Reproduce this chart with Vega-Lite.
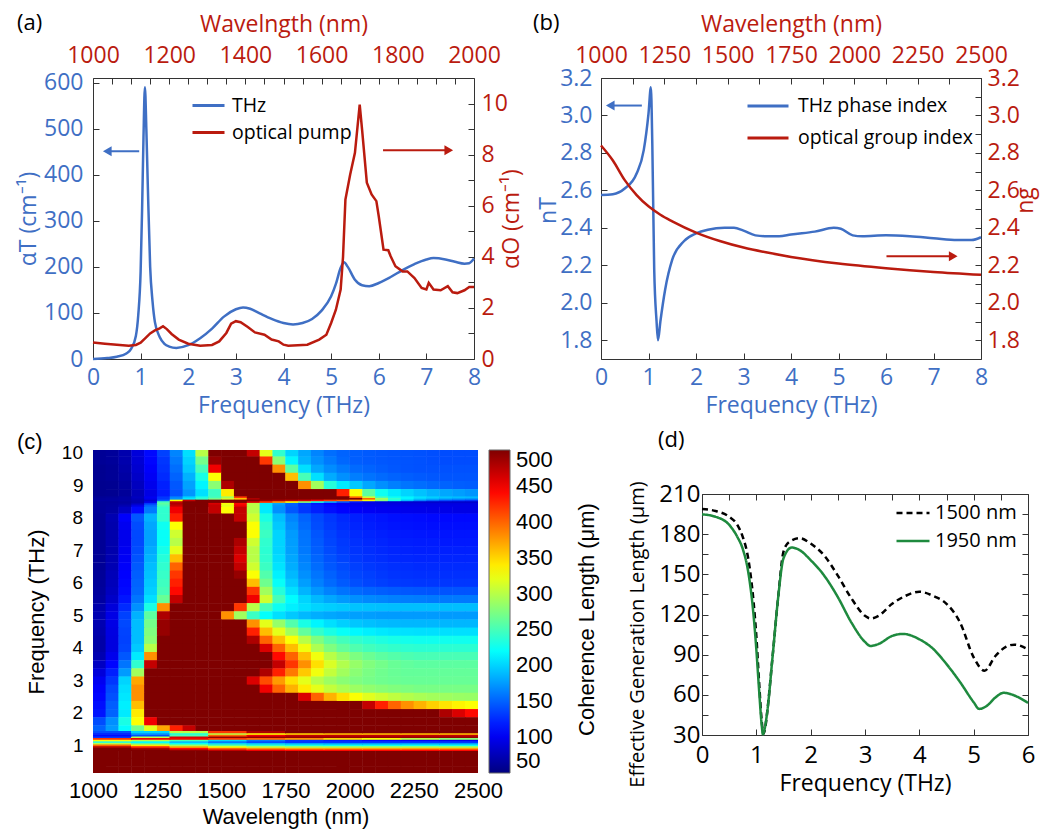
{
"$schema": "https://vega.github.io/schema/vega-lite/v6.json",
"padding": {"left": 16, "top": 11, "right": 4, "bottom": 4},
"background": "white",
"config": {
  "font": "Open Sans",
  "view": {"stroke": "#333", "strokeWidth": 1},
  "axis": {"grid": false, "domain": false, "tickColor": "#333", "tickWidth": 1, "tickSize": -6, "labelFontSize": 23, "titleFontSize": 23, "titleFontWeight": "normal", "labelFont": "Open Sans", "titleFont": "Open Sans", "labelOverlap": false, "labelFlush": false, "labelColor": "#000", "titleColor": "#000"},
  "axisY": {"labelOverlap": false},
  "axisQuantitative": {"labelOverlap": false},
  "legend": {"labelFont": "Open Sans", "titleFont": "Open Sans", "labelLimit": 400},
  "title": {"fontWeight": "normal"}
},
"datasets": {
  "aT": [{"f":0,"a":0},{"f":0.3,"a":2},{"f":0.5,"a":5},{"f":0.7,"a":12},{"f":0.8,"a":22},{"f":0.9,"a":50},{"f":0.95,"a":95},{"f":1.0,"a":190},{"f":1.03,"a":320},{"f":1.06,"a":480},{"f":1.09,"a":590},{"f":1.12,"a":500},{"f":1.15,"a":380},{"f":1.2,"a":200},{"f":1.25,"a":125},{"f":1.3,"a":80},{"f":1.4,"a":48},{"f":1.5,"a":33},{"f":1.6,"a":27},{"f":1.75,"a":24},{"f":2.0,"a":30},{"f":2.25,"a":45},{"f":2.5,"a":66},{"f":2.75,"a":92},{"f":3.0,"a":108},{"f":3.15,"a":112},{"f":3.3,"a":109},{"f":3.5,"a":99},{"f":3.75,"a":87},{"f":4.0,"a":78},{"f":4.2,"a":75},{"f":4.4,"a":78},{"f":4.6,"a":87},{"f":4.8,"a":105},{"f":5.0,"a":136},{"f":5.1,"a":163},{"f":5.2,"a":198},{"f":5.27,"a":210},{"f":5.35,"a":200},{"f":5.5,"a":172},{"f":5.65,"a":160},{"f":5.8,"a":158},{"f":6.0,"a":165},{"f":6.25,"a":178},{"f":6.5,"a":193},{"f":6.75,"a":206},{"f":7.0,"a":216},{"f":7.15,"a":219},{"f":7.4,"a":216},{"f":7.6,"a":211},{"f":7.8,"a":207},{"f":7.9,"a":208},{"f":8.0,"a":218}],
  "aO": [{"f":0,"a":0.65},{"f":0.25,"a":0.6},{"f":0.5,"a":0.56},{"f":0.75,"a":0.52},{"f":0.9,"a":0.55},{"f":1.0,"a":0.64},{"f":1.1,"a":0.82},{"f":1.2,"a":1.0},{"f":1.3,"a":1.12},{"f":1.4,"a":1.2},{"f":1.47,"a":1.28},{"f":1.55,"a":1.17},{"f":1.65,"a":0.98},{"f":1.8,"a":0.76},{"f":2.0,"a":0.6},{"f":2.25,"a":0.52},{"f":2.5,"a":0.55},{"f":2.65,"a":0.69},{"f":2.8,"a":1.02},{"f":2.9,"a":1.38},{"f":3.0,"a":1.48},{"f":3.1,"a":1.44},{"f":3.25,"a":1.25},{"f":3.4,"a":1.04},{"f":3.6,"a":0.95},{"f":3.75,"a":0.76},{"f":3.9,"a":0.69},{"f":4.0,"a":0.56},{"f":4.1,"a":0.52},{"f":4.5,"a":0.56},{"f":4.75,"a":0.76},{"f":4.9,"a":0.95},{"f":5.0,"a":1.41},{"f":5.1,"a":1.93},{"f":5.2,"a":2.72},{"f":5.25,"a":4.0},{"f":5.3,"a":6.24},{"f":5.4,"a":7.22},{"f":5.5,"a":8.07},{"f":5.6,"a":9.96},{"f":5.65,"a":8.98},{"f":5.75,"a":6.9},{"f":5.85,"a":6.44},{"f":5.95,"a":6.18},{"f":6.0,"a":5.59},{"f":6.1,"a":4.28},{"f":6.2,"a":4.26},{"f":6.25,"a":4.02},{"f":6.35,"a":3.63},{"f":6.5,"a":3.43},{"f":6.6,"a":3.43},{"f":6.75,"a":3.17},{"f":6.9,"a":2.78},{"f":7.0,"a":2.72},{"f":7.05,"a":2.98},{"f":7.15,"a":2.72},{"f":7.3,"a":2.69},{"f":7.45,"a":2.85},{"f":7.55,"a":2.61},{"f":7.65,"a":2.58},{"f":7.8,"a":2.69},{"f":7.9,"a":2.82},{"f":8.0,"a":2.82}],
  "nT": [{"f":0,"n":2.576},{"f":0.25,"n":2.58},{"f":0.5,"n":2.61},{"f":0.75,"n":2.69},{"f":0.9,"n":2.815},{"f":1.0,"n":3.01},{"f":1.05,"n":3.15},{"f":1.08,"n":2.85},{"f":1.12,"n":2.18},{"f":1.17,"n":1.9},{"f":1.2,"n":1.8},{"f":1.25,"n":1.9},{"f":1.35,"n":2.07},{"f":1.5,"n":2.23},{"f":1.75,"n":2.33},{"f":2.0,"n":2.37},{"f":2.25,"n":2.39},{"f":2.6,"n":2.4},{"f":2.8,"n":2.4},{"f":3.0,"n":2.385},{"f":3.25,"n":2.36},{"f":3.5,"n":2.355},{"f":3.75,"n":2.355},{"f":4.0,"n":2.365},{"f":4.5,"n":2.38},{"f":4.9,"n":2.4},{"f":5.05,"n":2.395},{"f":5.3,"n":2.36},{"f":5.5,"n":2.355},{"f":6.0,"n":2.36},{"f":6.5,"n":2.355},{"f":7.0,"n":2.345},{"f":7.5,"n":2.335},{"f":7.8,"n":2.335},{"f":8.0,"n":2.35}],
  "ng": [{"f":0,"n":2.84},{"f":0.25,"n":2.76},{"f":0.5,"n":2.655},{"f":0.75,"n":2.575},{"f":1.0,"n":2.515},{"f":1.25,"n":2.47},{"f":1.5,"n":2.435},{"f":2.0,"n":2.375},{"f":2.5,"n":2.33},{"f":3.0,"n":2.295},{"f":3.5,"n":2.268},{"f":4.0,"n":2.245},{"f":5.0,"n":2.21},{"f":6.0,"n":2.185},{"f":7.0,"n":2.165},{"f":8.0,"n":2.15}],
  "dl": [{"s":"1500 nm","f":0,"v":198.8},{"s":"1500 nm","f":0.25,"v":197.3},{"s":"1500 nm","f":0.5,"v":193},{"s":"1500 nm","f":0.65,"v":187},{"s":"1500 nm","f":0.75,"v":178},{"s":"1500 nm","f":0.85,"v":162},{"s":"1500 nm","f":0.95,"v":129},{"s":"1500 nm","f":1.0,"v":104},{"s":"1500 nm","f":1.05,"v":70},{"s":"1500 nm","f":1.1,"v":40},{"s":"1500 nm","f":1.13,"v":31},{"s":"1500 nm","f":1.17,"v":37},{"s":"1500 nm","f":1.2,"v":47},{"s":"1500 nm","f":1.3,"v":89},{"s":"1500 nm","f":1.4,"v":132},{"s":"1500 nm","f":1.5,"v":167},{"s":"1500 nm","f":1.6,"v":174},{"s":"1500 nm","f":1.8,"v":177},{"s":"1500 nm","f":2.0,"v":173},{"s":"1500 nm","f":2.25,"v":164},{"s":"1500 nm","f":2.5,"v":149},{"s":"1500 nm","f":2.75,"v":132},{"s":"1500 nm","f":3.0,"v":119},{"s":"1500 nm","f":3.1,"v":117},{"s":"1500 nm","f":3.25,"v":119},{"s":"1500 nm","f":3.5,"v":128},{"s":"1500 nm","f":3.75,"v":134},{"s":"1500 nm","f":4.0,"v":137},{"s":"1500 nm","f":4.25,"v":134},{"s":"1500 nm","f":4.5,"v":128},{"s":"1500 nm","f":4.75,"v":114},{"s":"1500 nm","f":5.0,"v":88},{"s":"1500 nm","f":5.2,"v":78},{"s":"1500 nm","f":5.4,"v":89},{"s":"1500 nm","f":5.6,"v":96},{"s":"1500 nm","f":5.75,"v":97.5},{"s":"1500 nm","f":6.0,"v":94},
        {"s":"1950 nm","f":0,"v":194.8},{"s":"1950 nm","f":0.25,"v":193},{"s":"1950 nm","f":0.5,"v":187},{"s":"1950 nm","f":0.65,"v":178},{"s":"1950 nm","f":0.75,"v":169},{"s":"1950 nm","f":0.85,"v":152},{"s":"1950 nm","f":0.95,"v":119},{"s":"1950 nm","f":1.0,"v":94},{"s":"1950 nm","f":1.05,"v":64},{"s":"1950 nm","f":1.1,"v":37},{"s":"1950 nm","f":1.12,"v":30.5},{"s":"1950 nm","f":1.15,"v":34},{"s":"1950 nm","f":1.2,"v":47},{"s":"1950 nm","f":1.3,"v":89},{"s":"1950 nm","f":1.4,"v":132},{"s":"1950 nm","f":1.5,"v":162},{"s":"1950 nm","f":1.65,"v":170},{"s":"1950 nm","f":1.8,"v":168},{"s":"1950 nm","f":2.0,"v":160.6},{"s":"1950 nm","f":2.25,"v":149},{"s":"1950 nm","f":2.5,"v":133},{"s":"1950 nm","f":2.75,"v":114},{"s":"1950 nm","f":3.0,"v":99.5},{"s":"1950 nm","f":3.1,"v":96.5},{"s":"1950 nm","f":3.25,"v":98},{"s":"1950 nm","f":3.5,"v":104},{"s":"1950 nm","f":3.7,"v":105.5},{"s":"1950 nm","f":4.0,"v":101.5},{"s":"1950 nm","f":4.25,"v":94.5},{"s":"1950 nm","f":4.5,"v":83},{"s":"1950 nm","f":4.75,"v":69.5},{"s":"1950 nm","f":5.0,"v":54.5},{"s":"1950 nm","f":5.1,"v":49.5},{"s":"1950 nm","f":5.25,"v":52},{"s":"1950 nm","f":5.4,"v":58},{"s":"1950 nm","f":5.55,"v":61.5},{"s":"1950 nm","f":5.75,"v":59.5},{"s":"1950 nm","f":6.0,"v":54}],
  "wl30": [{"i":1,"w":1025},{"i":2,"w":1075},{"i":3,"w":1125},{"i":4,"w":1175},{"i":5,"w":1225},{"i":6,"w":1275},{"i":7,"w":1325},{"i":8,"w":1375},{"i":9,"w":1425},{"i":10,"w":1475},{"i":11,"w":1525},{"i":12,"w":1575},{"i":13,"w":1625},{"i":14,"w":1675},{"i":15,"w":1725},{"i":16,"w":1775},{"i":17,"w":1825},{"i":18,"w":1875},{"i":19,"w":1925},{"i":20,"w":1975},{"i":21,"w":2025},{"i":22,"w":2075},{"i":23,"w":2125},{"i":24,"w":2175},{"i":25,"w":2225},{"i":26,"w":2275},{"i":27,"w":2325},{"i":28,"w":2375},{"i":29,"w":2425},{"i":30,"w":2475}],
  "wl10": [{"i":1,"w":1075},{"i":2,"w":1225},{"i":3,"w":1375},{"i":4,"w":1525},{"i":5,"w":1675},{"i":6,"w":1825},{"i":7,"w":1975},{"i":8,"w":2125},{"i":9,"w":2275},{"i":10,"w":2425}],
  "ylab": [{"f":2,"t":"2"},{"f":4,"t":"4"},{"f":6,"t":"6"},{"f":8,"t":"8"},{"f":10,"t":"10"}],
  "hm": [
    {"f":10,"v":[60,62,70,90,110,135,165,205,300,500,500,500,470,320,240,200,180,165,155,150,148,146,145,144,143,142,141,140,140,140]},
    {"f":9.75,"v":[60,62,70,88,108,130,160,200,270,490,500,500,500,420,280,215,185,170,160,152,148,146,145,144,143,142,141,140,140,140]},
    {"f":9.5,"v":[58,60,68,85,105,128,155,195,250,450,500,500,500,500,380,260,205,180,168,160,153,150,147,145,143,142,142,142,142,142]},
    {"f":9.25,"v":[58,60,66,82,102,125,150,185,230,330,500,500,500,500,500,360,250,205,182,170,162,157,153,150,148,146,145,144,144,144]},
    {"f":9,"v":[57,58,63,78,98,120,145,178,215,280,480,500,500,500,500,500,380,290,235,210,195,180,170,163,158,155,152,150,148,147]},
    {"f":8.75,"v":[57,58,62,75,95,118,142,172,205,245,340,500,500,500,500,500,500,500,500,430,330,260,225,210,200,192,185,180,176,172]},
    {"f":8.5,"v":[65,66,70,80,110,200,380,480,490,480,450,480,470,450,430,420,400,380,350,320,280,240,200,170,150,140,130,125,120,118]},
    {"f":8.25,"v":[62,65,80,110,160,240,450,500,500,470,330,470,300,210,170,145,130,120,112,107,104,102,100,99,98,97,96,96,95,95]},
    {"f":8,"v":[60,72,105,145,185,240,430,500,500,500,500,470,310,230,190,165,150,138,130,124,120,117,115,113,112,111,110,110,110,110]},
    {"f":7.75,"v":[60,70,100,140,180,225,330,500,500,500,500,500,330,240,195,170,153,140,132,126,122,119,117,115,114,113,112,112,112,112]},
    {"f":7.5,"v":[60,70,98,138,178,222,310,500,500,500,500,500,330,245,200,175,157,144,135,129,125,122,120,118,117,116,115,115,115,115]},
    {"f":7.25,"v":[60,70,98,138,178,222,300,500,500,500,500,480,310,240,200,176,158,146,137,131,127,124,122,120,119,118,118,117,117,117]},
    {"f":7,"v":[60,70,100,140,182,228,320,500,500,500,500,470,300,238,200,177,160,148,139,133,129,126,124,122,121,120,120,120,120,120]},
    {"f":6.75,"v":[60,72,102,143,186,235,360,500,500,500,500,460,300,240,203,180,163,151,142,136,131,128,126,124,123,122,122,122,122,122]},
    {"f":6.5,"v":[60,73,104,146,190,240,400,500,500,500,500,470,310,245,207,183,166,154,145,139,134,131,129,127,126,125,125,125,125,125]},
    {"f":6.25,"v":[61,75,106,148,192,243,420,500,500,500,500,490,330,255,213,188,170,158,149,142,137,134,131,129,128,127,127,127,127,127]},
    {"f":6,"v":[62,76,108,150,195,246,430,500,500,500,500,500,360,268,222,195,176,163,153,146,141,137,134,132,131,130,130,130,130,130]},
    {"f":5.75,"v":[63,78,110,152,198,250,440,500,500,500,500,500,420,290,235,205,186,173,164,157,153,150,148,146,145,144,143,143,143,143]},
    {"f":5.5,"v":[65,82,115,158,205,265,470,500,500,500,500,500,450,310,250,218,200,188,180,174,170,167,165,163,162,161,160,160,160,160]},
    {"f":5.25,"v":[70,90,125,170,230,380,500,500,500,500,500,420,300,250,225,212,205,200,197,195,193,192,191,190,190,190,190,190,190,190]},
    {"f":5,"v":[72,95,135,185,260,480,500,500,500,500,380,290,245,220,205,195,188,183,180,178,177,176,175,175,175,175,175,175,175,175]},
    {"f":4.75,"v":[72,95,138,190,270,490,500,500,500,500,500,500,380,320,285,255,230,215,205,198,194,191,189,188,187,187,187,187,187,187]},
    {"f":4.5,"v":[70,93,136,190,275,490,500,500,500,500,500,500,430,360,320,290,262,242,230,222,216,212,209,207,206,205,205,205,205,205]},
    {"f":4.25,"v":[68,92,135,190,280,500,500,500,500,500,500,500,480,400,360,330,300,275,258,248,241,236,232,229,227,226,226,226,226,226]},
    {"f":4,"v":[68,92,137,195,300,500,500,500,500,500,500,500,500,460,400,360,325,295,275,262,254,248,244,241,239,238,238,238,238,238]},
    {"f":3.75,"v":[72,98,145,210,380,500,500,500,500,500,500,500,500,500,440,400,360,325,300,285,274,266,260,256,253,251,251,251,251,251]},
    {"f":3.5,"v":[80,108,158,240,470,500,500,500,500,500,500,500,500,500,470,420,380,345,315,297,285,276,270,265,262,260,260,260,260,260]},
    {"f":3.25,"v":[90,120,175,290,500,500,500,500,500,500,500,500,500,480,430,390,355,325,305,290,280,273,268,265,263,263,263,263,263,263]},
    {"f":3,"v":[100,130,200,370,500,500,500,500,500,500,500,500,460,410,375,345,320,300,288,280,275,271,268,266,265,265,265,265,265,265]},
    {"f":2.75,"v":[105,138,205,380,500,500,500,500,500,500,500,500,500,450,400,365,340,320,305,295,288,283,279,276,274,272,272,272,272,272]},
    {"f":2.5,"v":[108,142,208,380,500,500,500,500,500,500,500,500,500,500,500,500,460,400,365,345,330,318,310,303,298,294,291,289,287,286]},
    {"f":2.25,"v":[112,148,212,360,500,500,500,500,500,500,500,500,500,500,500,500,500,500,500,500,500,470,430,400,380,365,352,343,336,330]},
    {"f":2,"v":[115,150,210,340,500,500,500,500,500,500,500,500,500,500,500,500,500,500,500,500,500,500,500,500,500,500,500,480,460,440]},
    {"f":1.75,"v":[140,170,230,330,450,500,500,500,500,500,500,500,500,500,500,500,500,500,500,500,500,500,500,500,500,500,500,500,500,500]},
    {"f":1.5,"v":[150,175,220,270,320,370,430,470,500,500,500,500,500,500,500,500,500,500,500,500,500,500,500,500,500,500,500,500,500,500]},
    {"f":1.25,"v":[250,250,250,250,250,350,350,350,350,350,350,350,350,350,350,350,350,350,350,350,350,350,350,350,350,350,350,350,350,350]},
    {"f":1,"v":[400,400,400,330,330,330,330,330,330,250,250,250,250,250,250,250,250,250,250,250,250,250,250,250,250,250,250,250,250,250]},
    {"f":0.75,"v":[500,500,500,500,500,500,500,500,500,500,500,500,500,500,500,500,500,500,500,500,500,500,500,500,500,500,500,500,500,500]},
    {"f":0.5,"v":[500,500,500,500,500,500,500,500,500,500,500,500,500,500,500,500,500,500,500,500,500,500,500,500,500,500,500,500,500,500]},
    {"f":0.25,"v":[500,500,500,500,500,500,500,500,500,500,500,500,500,500,500,500,500,500,500,500,500,500,500,500,500,500,500,500,500,500]}
  ],
  "hm2": [
    {"f":0.875,"v":[500,500,490,470,450,440,440,440,440,440]},
    {"f":0.925,"v":[500,480,440,400,380,370,370,370,370,370]},
    {"f":0.975,"v":[480,430,370,330,310,300,300,300,300,300]},
    {"f":1.025,"v":[400,340,290,260,240,230,225,225,225,225]},
    {"f":1.075,"v":[300,260,220,200,190,180,175,175,175,175]},
    {"f":1.125,"v":[240,220,190,160,140,130,130,130,130,130]},
    {"f":1.175,"v":[330,300,250,200,160,130,120,110,105,100]},
    {"f":1.225,"v":[420,450,450,420,400,380,350,330,300,280]},
    {"f":1.275,"v":[130,300,460,490,490,490,490,490,490,490]},
    {"f":1.325,"v":[110,140,250,400,450,470,470,470,470,470]},
    {"f":1.375,"v":[120,170,230,300,330,350,360,360,360,360]},
    {"f":1.425,"v":[140,200,300,420,480,500,500,500,500,500]}
  ],
  "hm3": [
    {"f":8.625,"v":[60,62,66,78,100,130,165,200,230,250,290,420,500,500,500,500,500,500,500,500,400,310,250,225,215,205,198,193,190,188]},
    {"f":8.575,"v":[62,63,66,76,98,130,170,210,240,270,310,360,480,500,500,500,500,500,500,500,500,400,290,240,215,200,190,183,178,175]},
    {"f":8.525,"v":[65,65,67,72,85,150,330,470,500,500,500,500,500,490,480,470,460,440,420,400,370,330,280,230,190,165,150,140,135,130]},
    {"f":8.475,"v":[62,62,64,70,95,250,470,500,500,500,500,500,460,420,380,330,280,230,180,140,115,100,92,88,86,85,84,84,84,84]},
    {"f":8.425,"v":[62,63,66,78,130,260,480,500,500,460,330,440,300,210,180,150,130,115,106,100,97,95,94,93,92,92,92,92,92,92]},
    {"f":8.375,"v":[62,64,72,95,150,250,470,500,500,470,320,450,300,210,172,148,132,120,110,104,100,98,97,96,95,95,95,95,95,95]}
  ]
},
"spacing": 11,
"resolve": {"scale": {"color": "independent", "strokeDash": "independent"}, "legend": {"color": "independent", "strokeDash": "independent"}},
"vconcat": [
 {
  "spacing": 8,
  "resolve": {"scale": {"color": "independent"}, "legend": {"color": "independent"}},
  "hconcat": [
   {
    "width": 381, "height": 281,
    "title": {"text": "(a)", "anchor": "start", "frame": "group", "dx": -76, "dy": 22, "offset": 0, "fontSize": 22, "fontWeight": "normal", "color": "#000"},
    "layer": [
     {
      "layer": [
       {
        "data": {"name": "aT"},
        "mark": {"type": "line", "strokeWidth": 2.5, "interpolate": "monotone"},
        "encoding": {
         "x": {"field": "f", "type": "quantitative", "scale": {"domain": [0, 8], "nice": false, "zero": false},
               "axis": {"orient": "bottom", "values": [0,0.5,1,1.5,2,2.5,3,3.5,4,4.5,5,5.5,6,6.5,7,7.5,8], "format": "d", "labelExpr": "datum.value % 1 === 0 ? datum.label : ''", "labelOverlap": false, "title": "Frequency (THz)", "labelColor": "#3F6FC4", "titleColor": "#3F6FC4", "labelPadding": 13, "minExtent": 30, "maxExtent": 30, "titlePadding": 5}},
         "y": {"field": "a", "type": "quantitative", "scale": {"domain": [0, 610], "nice": false, "zero": false},
               "axis": {"orient": "left", "values": [0,50,100,150,200,250,300,350,400,450,500,550,600], "labelExpr": "datum.value % 100 === 0 ? datum.label : ''", "labelOverlap": false, "title": "αT (cm⁻¹)", "labelColor": "#3F6FC4", "titleColor": "#3F6FC4", "labelPadding": 16, "minExtent": 50, "maxExtent": 50, "titlePadding": 3}},
         "color": {"datum": "THz", "type": "nominal", "scale": {"domain": ["THz", "optical pump"], "range": ["#3F6FC4", "#BA1B0F"]},
                   "legend": {"orient": "none", "legendX": 98, "legendY": 10, "title": null, "symbolType": "stroke", "symbolSize": 1024, "symbolStrokeWidth": 3, "labelFontSize": 19.5, "labelColor": "#000", "rowPadding": -2, "labelOffset": 6, "padding": 0}}
        }
       },
       {"data": {"values": [{"x1": 0.3, "x2": 0.97, "y": 451}]}, "mark": {"type": "rule", "strokeWidth": 2, "color": "#3F6FC4"},
        "encoding": {"x": {"field": "x1", "type": "quantitative"}, "x2": {"field": "x2"}, "y": {"field": "y", "type": "quantitative"}}},
       {"data": {"values": [{"x": 0.3, "y": 451}]}, "mark": {"type": "point", "shape": "triangle-left", "size": 100, "filled": true, "opacity": 1, "color": "#3F6FC4"},
        "encoding": {"x": {"field": "x", "type": "quantitative"}, "y": {"field": "y", "type": "quantitative"}}},
       {"data": {"values": [{"x1": 6.09, "x2": 7.45, "y": 453}]}, "mark": {"type": "rule", "strokeWidth": 2, "color": "#BA1B0F"},
        "encoding": {"x": {"field": "x1", "type": "quantitative"}, "x2": {"field": "x2"}, "y": {"field": "y", "type": "quantitative"}}},
       {"data": {"values": [{"x": 7.47, "y": 453}]}, "mark": {"type": "point", "shape": "triangle-right", "size": 100, "filled": true, "opacity": 1, "color": "#BA1B0F"},
        "encoding": {"x": {"field": "x", "type": "quantitative"}, "y": {"field": "y", "type": "quantitative"}}}
      ]
     },
     {
      "data": {"name": "aO"},
      "mark": {"type": "line", "strokeWidth": 2.5},
      "encoding": {
       "x": {"field": "f", "type": "quantitative", "scale": {"domain": [0, 8], "nice": false, "zero": false}, "axis": null},
       "y": {"field": "a", "type": "quantitative", "scale": {"domain": [0, 11], "nice": false, "zero": false},
             "axis": {"orient": "right", "values": [0,1,2,3,4,5,6,7,8,9,10], "labelExpr": "datum.value % 2 === 0 ? datum.label : ''", "labelOverlap": false, "title": "αO (cm⁻¹)", "titleAngle": 270, "titleBaseline": "top", "labelColor": "#BA1B0F", "titleColor": "#BA1B0F", "labelPadding": 13, "minExtent": 23, "maxExtent": 23, "titlePadding": 3}},
       "color": {"datum": "optical pump", "type": "nominal"}
      }
     },
     {
      "data": {"values": [{"w": 1000}, {"w": 2000}]},
      "mark": {"type": "point", "opacity": 0},
      "encoding": {
       "x": {"field": "w", "type": "quantitative", "scale": {"domain": [1000, 2000], "nice": false, "zero": false},
             "axis": {"orient": "top", "values": [1000,1050,1100,1150,1200,1250,1300,1350,1400,1450,1500,1550,1600,1650,1700,1750,1800,1850,1900,1950,2000], "format": "d", "labelExpr": "datum.value % 200 === 0 ? datum.label : ''", "labelOverlap": false, "title": "Wavelngth (nm)", "labelColor": "#BA1B0F", "titleColor": "#BA1B0F", "labelPadding": 17, "minExtent": 33, "maxExtent": 33, "titlePadding": 9}}
      }
     }
    ],
    "resolve": {"scale": {"x": "independent", "y": "independent"}}
   },
   {
    "width": 380, "height": 281,
    "title": {"text": "(b)", "anchor": "start", "frame": "group", "dx": -68, "dy": 22, "offset": 0, "fontSize": 22, "fontWeight": "normal", "color": "#000"},
    "layer": [
     {
      "layer": [
       {
        "data": {"name": "nT"},
        "mark": {"type": "line", "strokeWidth": 2.5, "interpolate": "monotone"},
        "encoding": {
         "x": {"field": "f", "type": "quantitative", "scale": {"domain": [0, 8], "nice": false, "zero": false},
               "axis": {"orient": "bottom", "values": [0,0.5,1,1.5,2,2.5,3,3.5,4,4.5,5,5.5,6,6.5,7,7.5,8], "format": "d", "labelExpr": "datum.value % 1 === 0 ? datum.label : ''", "labelOverlap": false, "title": "Frequency (THz)", "labelColor": "#3F6FC4", "titleColor": "#3F6FC4", "labelPadding": 13, "minExtent": 30, "maxExtent": 30, "titlePadding": 5}},
         "y": {"field": "n", "type": "quantitative", "scale": {"domain": [1.7, 3.2], "nice": false, "zero": false},
               "axis": {"orient": "left", "values": [1.8,1.9,2.0,2.1,2.2,2.3,2.4,2.5,2.6,2.7,2.8,2.9,3.0,3.1,3.2], "format": ".1f", "labelExpr": "round(datum.value*10) % 2 === 0 ? datum.label : ''", "labelOverlap": false, "title": "nT", "titleY": 132, "labelColor": "#3F6FC4", "titleColor": "#3F6FC4", "labelPadding": 15, "minExtent": 38, "maxExtent": 38, "titlePadding": 3}},
         "color": {"datum": "THz phase index", "type": "nominal", "scale": {"domain": ["THz phase index", "optical group index"], "range": ["#3F6FC4", "#BA1B0F"]},
                   "legend": {"orient": "none", "legendX": 145, "legendY": 6, "title": null, "symbolType": "stroke", "symbolSize": 1681, "symbolStrokeWidth": 3, "labelFontSize": 19.5, "labelLimit": 400, "labelColor": "#000", "rowPadding": -7, "labelOffset": 8, "padding": 0}}
        }
       },
       {"data": {"values": [{"x1": 0.19, "x2": 0.86, "y": 3.053}]}, "mark": {"type": "rule", "strokeWidth": 2, "color": "#3F6FC4"},
        "encoding": {"x": {"field": "x1", "type": "quantitative"}, "x2": {"field": "x2"}, "y": {"field": "y", "type": "quantitative"}}},
       {"data": {"values": [{"x": 0.195, "y": 3.053}]}, "mark": {"type": "point", "shape": "triangle-left", "size": 100, "filled": true, "opacity": 1, "color": "#3F6FC4"},
        "encoding": {"x": {"field": "x", "type": "quantitative"}, "y": {"field": "y", "type": "quantitative"}}},
       {"data": {"values": [{"x1": 6.01, "x2": 7.41, "y": 2.249}]}, "mark": {"type": "rule", "strokeWidth": 2, "color": "#BA1B0F"},
        "encoding": {"x": {"field": "x1", "type": "quantitative"}, "x2": {"field": "x2"}, "y": {"field": "y", "type": "quantitative"}}},
       {"data": {"values": [{"x": 7.415, "y": 2.249}]}, "mark": {"type": "point", "shape": "triangle-right", "size": 100, "filled": true, "opacity": 1, "color": "#BA1B0F"},
        "encoding": {"x": {"field": "x", "type": "quantitative"}, "y": {"field": "y", "type": "quantitative"}}}
      ]
     },
     {
      "data": {"name": "ng"},
      "mark": {"type": "line", "strokeWidth": 2.5, "interpolate": "monotone"},
      "encoding": {
       "x": {"field": "f", "type": "quantitative", "scale": {"domain": [0, 8], "nice": false, "zero": false}, "axis": null},
       "y": {"field": "n", "type": "quantitative", "scale": {"domain": [1.7, 3.2], "nice": false, "zero": false},
             "axis": {"orient": "right", "values": [1.8,1.9,2.0,2.1,2.2,2.3,2.4,2.5,2.6,2.7,2.8,2.9,3.0,3.1,3.2], "format": ".1f", "labelExpr": "round(datum.value*10) % 2 === 0 ? datum.label : ''", "labelOverlap": false, "title": "ng", "titleY": 122, "titleAngle": 270, "titleBaseline": "top", "labelColor": "#BA1B0F", "titleColor": "#BA1B0F", "labelPadding": 12, "minExtent": 30, "maxExtent": 30, "titlePadding": 3}},
       "color": {"datum": "optical group index", "type": "nominal"}
      }
     },
     {
      "data": {"values": [{"w": 1000}, {"w": 2500}]},
      "mark": {"type": "point", "opacity": 0},
      "encoding": {
       "x": {"field": "w", "type": "quantitative", "scale": {"domain": [1000, 2500], "nice": false, "zero": false},
             "axis": {"orient": "top", "values": [1000,1125,1250,1375,1500,1625,1750,1875,2000,2125,2250,2375,2500], "format": "d", "labelExpr": "datum.value % 250 === 0 ? datum.label : ''", "labelOverlap": false, "title": "Wavelength (nm)", "labelColor": "#BA1B0F", "titleColor": "#BA1B0F", "labelPadding": 17, "minExtent": 33, "maxExtent": 33, "titlePadding": 9}}
      }
     }
    ],
    "resolve": {"scale": {"x": "independent", "y": "independent"}}
   }
  ]
 },
 {
  "columns": 2,
  "align": "none",
  "spacing": 29,
  "resolve": {"scale": {"color": "independent", "strokeDash": "independent"}, "legend": {"color": "independent", "strokeDash": "independent"}},
  "concat": [
   {
    "width": 385, "height": 323,
    "title": {"text": "(c)", "anchor": "start", "frame": "group", "dx": -76, "dy": 10, "offset": 0, "fontSize": 22, "fontWeight": "normal", "color": "#000", "font": "Liberation Sans"},
    "view": {"stroke": null},
    "layer": [
     {
      "layer": [
       {
        "data": {"name": "hm"},
        "transform": [
         {"flatten": ["v"]},
         {"window": [{"op": "row_number", "as": "i"}], "groupby": ["f"]},
         {"lookup": "i", "from": {"data": {"name": "wl30"}, "key": "i", "fields": ["w"]}}
        ],
        "mark": {"type": "rect", "width": 13.3, "height": 8.6, "clip": true},
        "encoding": {
         "x": {"field": "w", "type": "quantitative", "scale": {"domain": [1000, 2500], "nice": false, "zero": false},
               "axis": {"values": [1000,1250,1500,1750,2000,2250,2500], "format": "d", "ticks": false, "tickSize": 0, "labelOverlap": false, "labelPadding": 7, "title": "Wavelength (nm)", "labelFont": "Liberation Sans", "titleFont": "Liberation Sans", "labelFontSize": 22, "titleFontSize": 22, "minExtent": 28, "maxExtent": 28, "titlePadding": 5}},
         "y": {"field": "f", "type": "quantitative", "scale": {"domain": [0.17, 10.08], "nice": false, "zero": false},
               "axis": {"orient": "left", "values": [1,1.5,2,2.5,3,3.5,4,4.5,5,5.5,6,6.5,7,7.5,8,8.5,9,9.5,10], "format": "d", "labelExpr": "datum.value % 1 === 0 ? datum.label : ''", "ticks": false, "tickSize": 0, "labelOverlap": false, "labelSeparation": -15, "labelPadding": 10, "title": "Frequency (THz)", "labelFont": "Liberation Sans", "titleFont": "Liberation Sans", "labelFontSize": 19, "titleFontSize": 22, "minExtent": 38, "maxExtent": 38, "titlePadding": 7}},
         "color": {"field": "v", "type": "quantitative",
                   "scale": {"domain": [50,106.25,162.5,218.75,275,331.25,387.5,443.75,500], "range": ["#00007F","#0000FF","#007FFF","#00FFFF","#7FFF7F","#FFFF00","#FF7F00","#FF0000","#7F0000"], "interpolate": "rgb", "clamp": true},
                   "legend": {"orient": "none", "legendX": 396, "legendY": 0, "direction": "vertical", "gradientLength": 323, "gradientThickness": 21, "values": [50,100,150,200,250,300,350,400,450,500], "labelFont": "Liberation Sans", "labelFontSize": 22, "labelColor": "#000", "labelOffset": 6, "labelOverlap": false, "title": null, "gradientStrokeColor": "#666", "gradientStrokeWidth": 1, "padding": 0}}
        }
       },
       {
        "data": {"name": "hm2"},
        "transform": [
         {"flatten": ["v"]},
         {"window": [{"op": "row_number", "as": "i"}], "groupby": ["f"]},
         {"lookup": "i", "from": {"data": {"name": "wl10"}, "key": "i", "fields": ["w"]}}
        ],
        "mark": {"type": "rect", "width": 39.5, "height": 2.1, "clip": true},
        "encoding": {
         "x": {"field": "w", "type": "quantitative"},
         "y": {"field": "f", "type": "quantitative"},
         "color": {"field": "v", "type": "quantitative"}
        }
       },
       {
        "data": {"name": "hm3"},
        "transform": [
         {"flatten": ["v"]},
         {"window": [{"op": "row_number", "as": "i"}], "groupby": ["f"]},
         {"lookup": "i", "from": {"data": {"name": "wl30"}, "key": "i", "fields": ["w"]}}
        ],
        "mark": {"type": "rect", "width": 13.3, "height": 2.1, "clip": true},
        "encoding": {
         "x": {"field": "w", "type": "quantitative"},
         "y": {"field": "f", "type": "quantitative"},
         "color": {"field": "v", "type": "quantitative"}
        }
       },
       {
        "data": {"name": "ylab"},
        "mark": {"type": "text", "align": "right", "baseline": "middle", "dx": -10, "font": "Liberation Sans", "fontSize": 19, "color": "#000"},
        "encoding": {
         "x": {"datum": 1000, "type": "quantitative"},
         "y": {"field": "f", "type": "quantitative"},
         "text": {"field": "t"}
        }
       }
      ]
     },
     {
      "data": {"values": [{"y": 0}]},
      "mark": {"type": "point", "opacity": 0},
      "encoding": {
       "y": {"field": "y", "type": "quantitative", "scale": {"domain": [0, 1]},
             "axis": {"orient": "right", "labels": false, "ticks": false, "domain": false, "title": "Coherence Length (μm)", "titleY": 169, "titleAngle": 270, "titleBaseline": "top", "titleFont": "Liberation Sans", "titleFontSize": 22, "titleColor": "#000", "minExtent": 94, "maxExtent": 94, "titlePadding": 4}}
      }
     }
    ],
    "resolve": {"scale": {"y": "independent"}}
   },
   {
    "spacing": 20,
    "vconcat": [
     {
      "width": 326, "height": 10,
      "view": {"stroke": null},
      "title": {"text": "(d)", "anchor": "start", "frame": "group", "dx": -44, "dy": 2, "offset": 0, "fontSize": 22, "fontWeight": "normal", "color": "#000"},
      "data": {"values": [{"k": 0}]},
      "mark": {"type": "point", "opacity": 0},
      "encoding": {}
     },
     {
      "width": 326, "height": 241,
      "layer": [
       {
        "data": {"name": "dl"},
        "mark": {"type": "line", "strokeWidth": 2.5, "interpolate": "monotone"},
        "encoding": {
         "x": {"field": "f", "type": "quantitative", "scale": {"domain": [0, 6], "nice": false, "zero": false},
               "axis": {"orient": "bottom", "values": [0,0.5,1,1.5,2,2.5,3,3.5,4,4.5,5,5.5,6], "format": "d", "labelExpr": "datum.value % 1 === 0 ? datum.label : ''", "labelOverlap": false, "title": "Frequency (THz)", "labelFontSize": 24, "titleFontSize": 23, "labelPadding": 14, "minExtent": 30, "maxExtent": 30, "titlePadding": 7}},
         "y": {"field": "v", "type": "quantitative", "scale": {"domain": [30, 210], "nice": false, "zero": false},
               "axis": {"orient": "left", "values": [30,45,60,75,90,105,120,135,150,165,180,195,210], "labelExpr": "datum.value % 30 === 0 ? datum.label : ''", "labelOverlap": false, "title": "Effective Generation Length (μm)", "titleY": 140, "titleFontSize": 20, "labelFontSize": 24, "labelPadding": 8, "minExtent": 50, "maxExtent": 50, "titlePadding": 5}},
         "color": {"field": "s", "type": "nominal", "scale": {"domain": ["1500 nm", "1950 nm"], "range": ["#000000", "#1E8A3E"]},
                   "legend": {"orient": "none", "legendX": 193, "legendY": 45, "title": null, "symbolType": "stroke", "symbolSize": 1089, "symbolStrokeWidth": 2.5, "labelFontSize": 20, "labelColor": "#000", "rowPadding": -4, "labelOffset": 4, "padding": 0}},
         "strokeDash": {"field": "s", "type": "nominal", "scale": {"domain": ["1500 nm", "1950 nm"], "range": [[6, 4], [1, 0]]},
                   "legend": {"orient": "none", "legendX": 193, "legendY": 45, "title": null, "symbolType": "stroke", "symbolSize": 1089, "symbolStrokeWidth": 2.5, "labelFontSize": 20, "labelColor": "#000", "rowPadding": -4, "labelOffset": 4, "padding": 0}}
        }
       },
       {
        "data": {"values": [{"x": 0, "y": 30}]},
        "mark": {"type": "point", "opacity": 0},
        "encoding": {
         "x": {"field": "x", "type": "quantitative", "scale": {"domain": [0, 6], "nice": false, "zero": false},
               "axis": {"orient": "top", "values": [0,0.5,1,1.5,2,2.5,3,3.5,4,4.5,5,5.5,6], "labels": false, "title": null}},
         "y": {"field": "y", "type": "quantitative", "scale": {"domain": [30, 210], "nice": false, "zero": false},
               "axis": {"orient": "right", "values": [30,45,60,75,90,105,120,135,150,165,180,195,210], "labels": false, "title": null}}
        }
       }
      ],
      "resolve": {"scale": {"x": "independent", "y": "independent"}}
     }
    ]
   }
  ]
 }
]
}
